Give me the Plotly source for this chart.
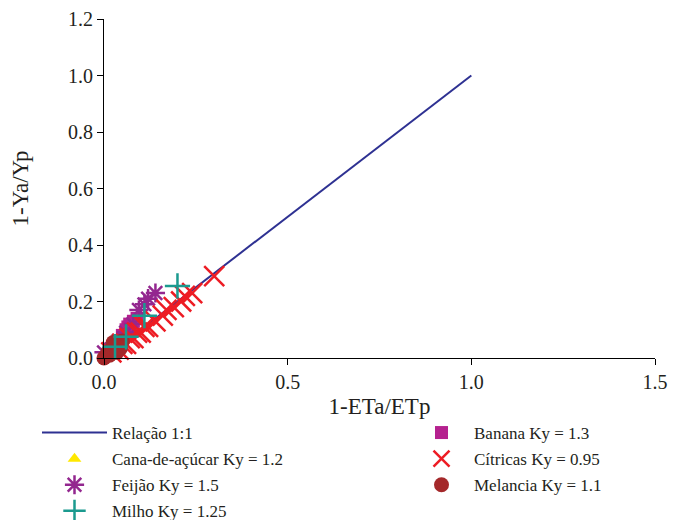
import plotly.graph_objects as go

# 1:1 line
ref_x = [0.0, 1.0]
ref_y = [0.0, 1.0]

cana_x = [0.0, 0.01, 0.02, 0.03, 0.01, 0.04]
cana_y = [0.0, 0.01, 0.02, 0.01, 0.0, 0.02]

feijao_x = [0.0, 0.02, 0.04, 0.06, 0.08, 0.095, 0.11, 0.12, 0.14]
feijao_y = [0.02, 0.03, 0.06, 0.09, 0.12, 0.17, 0.19, 0.21, 0.23]

milho_x = [0.03, 0.06, 0.11, 0.20]
milho_y = [0.04, 0.075, 0.15, 0.255]

banana_x = [0.05, 0.06, 0.065, 0.07, 0.08, 0.09]
banana_y = [0.08, 0.10, 0.11, 0.12, 0.13, 0.14]

citricas_x = [0.02, 0.04, 0.05, 0.06, 0.07, 0.08, 0.09, 0.10, 0.11, 0.12, 0.14,
              0.16, 0.17, 0.19, 0.21, 0.22, 0.24, 0.30]
citricas_y = [0.02, 0.03, 0.05, 0.05, 0.07, 0.07, 0.09, 0.09, 0.11, 0.11, 0.13,
              0.15, 0.17, 0.18, 0.20, 0.22, 0.23, 0.29]

melancia_x = [0.0, 0.01, 0.02, 0.03, 0.04, 0.05, 0.015, 0.035, 0.045, 0.025]
melancia_y = [0.0, 0.02, 0.03, 0.04, 0.05, 0.06, 0.01, 0.02, 0.035, 0.055]

x_ticks = [0.0, 0.5, 1.0, 1.5]
y_ticks = [0.0, 0.2, 0.4, 0.6, 0.8, 1.0, 1.2]

FONT = "Liberation Serif, Times New Roman, serif"
TXT = "#231f20"

fig = go.Figure()

fig.add_trace(go.Scatter(x=ref_x, y=ref_y, mode="lines", name="Relação 1:1",
                         line=dict(color="#2e3192", width=2), legend="legend",
                         legendgroup="a", legendrank=1))
fig.add_trace(go.Scatter(x=cana_x, y=cana_y, mode="markers", name="Cana-de-açúcar Ky = 1.2",
                         marker=dict(symbol="triangle-up", color="#ffe800", size=12),
                         cliponaxis=False, legend="legend", legendgroup="b", legendrank=2))
fig.add_trace(go.Scatter(x=banana_x, y=banana_y, mode="markers", name="Banana Ky = 1.3",
                         marker=dict(symbol="square", color="#b5218f", size=13),
                         cliponaxis=False, legend="legend2", legendgroup="e", legendrank=1))
fig.add_trace(go.Scatter(x=feijao_x, y=feijao_y, mode="markers", name="Feijão Ky = 1.5",
                         marker=dict(symbol="asterisk-open", size=16, color="#93278f",
                                     line=dict(color="#93278f", width=2.5)),
                         cliponaxis=False, legend="legend", legendgroup="c", legendrank=3))
fig.add_trace(go.Scatter(x=citricas_x, y=citricas_y, mode="markers", name="Cítricas Ky = 0.95",
                         marker=dict(symbol="x-thin-open", size=20, color="#ed1c24",
                                     line=dict(color="#ed1c24", width=2.5)),
                         cliponaxis=False, legend="legend2", legendgroup="f", legendrank=2))
fig.add_trace(go.Scatter(x=melancia_x, y=melancia_y, mode="markers", name="Melancia Ky = 1.1",
                         marker=dict(symbol="circle", color="#a4282a", size=15),
                         cliponaxis=False, legend="legend2", legendgroup="g", legendrank=3))
fig.add_trace(go.Scatter(x=milho_x, y=milho_y, mode="markers", name="Milho Ky = 1.25",
                         marker=dict(symbol="cross-thin-open", size=18, color="#1b9a8f",
                                     line=dict(color="#1b9a8f", width=2.5)),
                         cliponaxis=False, legend="legend", legendgroup="d", legendrank=4))

axis_common = dict(showline=True, linecolor="black", linewidth=1, ticks="outside",
                   ticklen=6, tickcolor="black", showgrid=False, zeroline=False,
                   automargin=True,
                   tickfont=dict(family=FONT, size=20, color=TXT))

legend_common = dict(xref="paper", yref="paper", xanchor="left", yanchor="top",
                     font=dict(family=FONT, size=17, color=TXT), tracegroupgap=1,
                     bgcolor="rgba(0,0,0,0)", traceorder="grouped")

# plot area in figure pixels: left 96, right 647, top 11, bottom 350
PW, PH = 551.0, 339.0

fig.update_layout(
    width=681, height=520,
    margin=dict(l=96, r=34, t=11, b=170, autoexpand=False),
    plot_bgcolor="white", paper_bgcolor="white",
    font=dict(family=FONT, size=18, color=TXT),
    showlegend=True,
    xaxis=dict(range=[0, 1.5], tickvals=x_ticks, tickformat=".1f",
               title=dict(text="1-ETa/ETp", font=dict(family=FONT, size=23, color=TXT),
                          standoff=5),
               **axis_common),
    yaxis=dict(range=[0, 1.2], tickvals=y_ticks, tickformat=".1f",
               title=dict(text="1-Ya/Yp", font=dict(family=FONT, size=23, color=TXT),
                          standoff=34),
               **axis_common),
    legend=dict(x=(29 - 96) / PW, y=(350 - 407) / PH, itemwidth=65, **legend_common),
    legend2=dict(x=(401 - 96) / PW, y=(350 - 407) / PH, itemwidth=55, **legend_common),
)

fig.write_html("out.html")
